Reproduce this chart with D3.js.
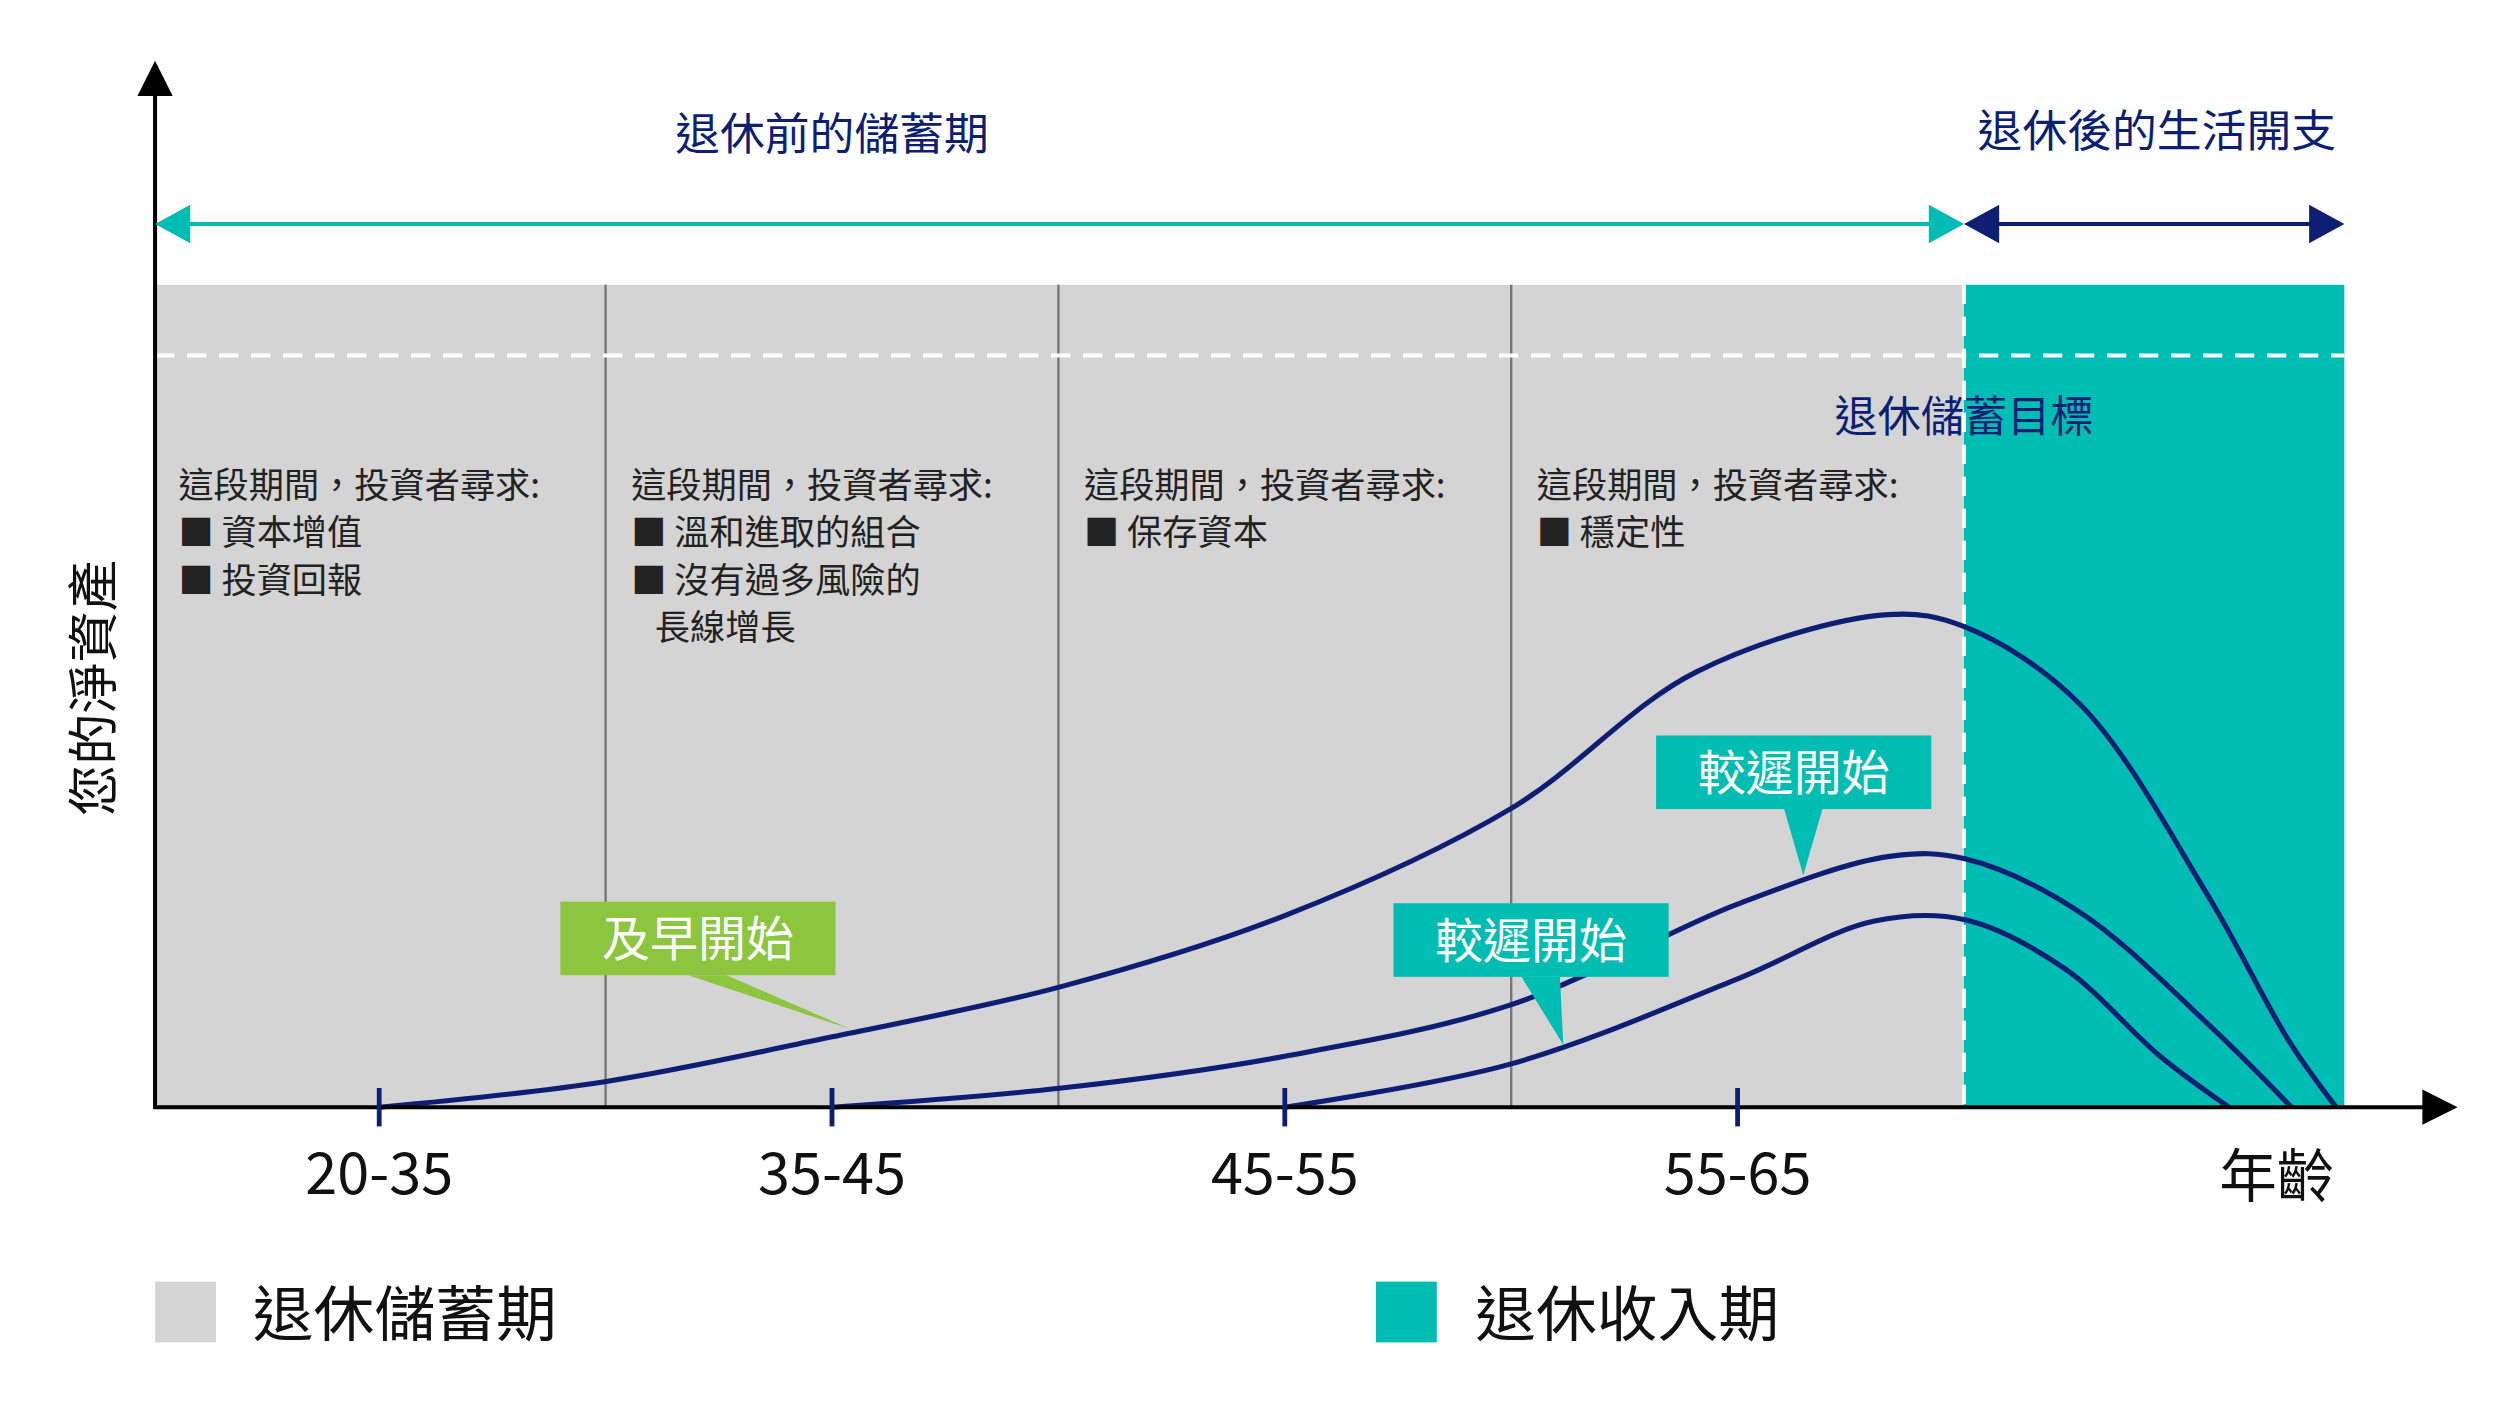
<!DOCTYPE html><html><head><meta charset="utf-8"><script src="https://cdn.jsdelivr.net/npm/d3@7"></script>
<style>body{margin:0;background:#fff}text{font-family:"Noto Sans CJK TC","Noto Sans",sans-serif}</style></head><body>
<svg id="c" width="2496" height="1404" viewBox="0 0 1560 877.5"></svg>
<script>
const ageTicks=["20-35","35-45","45-55","55-65"];
const dividers=[0.5,1.5,2.5];
const retireU=3.5, endU=4.34, axisU=-0.495;
const targetValue=91.4;
const earlyU=[0,0.498,1,1.502,2,2.502,2.908,3.332,3.502,3.756,4.039,4.216,4.322];
const earlyV=[0,3.1,8.56,14.6,23.3,36.4,52.9,59.9,58.4,49.0,25.7,8.2,0];
const late1U=[1,1.502,2,2.502,3,3.336,3.502,3.756,4.039,4.223];
const late1V=[0,2.3,6.2,12.5,24.7,30.5,30.2,23.7,10.1,0];
const late2U=[2,2.502,3,3.3,3.502,3.721,3.933,4.085];
const late2V=[0,5.3,15.6,22.6,22.8,16.9,6.2,0];
const panelTexts=[["這段期間，投資者尋求:","■ 資本增值","■ 投資回報"],["這段期間，投資者尋求:","■ 溫和進取的組合","■ 沒有過多風險的","   長線增長"],["這段期間，投資者尋求:","■ 保存資本"],["這段期間，投資者尋求:","■ 穩定性"]];
const callouts=[{t:"及早開始",u:0.4,v:25,tipU:1.04,tipV:9.5,c:"#8cc63f"},{t:"較遲開始",u:2.24,v:24.8,tipU:2.615,tipV:7.6,c:"#00bdb4"},{t:"較遲開始",u:2.82,v:45.2,tipU:3.145,tipV:28.2,c:"#00bdb4"}];
const navy="#0c1f73",teal="#00bdb4",gray="#d4d4d4";
const svg=d3.select("#c");
const x=d3.scaleLinear().domain([0,1]).range([237,520]);
const y=d3.scaleLinear().domain([0,100]).range([692,178]);
const defs=svg.append("defs");
svg.append("rect").attr("x",x(axisU)).attr("y",y(100)).attr("width",x(retireU)-x(axisU)).attr("height",y(0)-y(100)).attr("fill",gray);
svg.append("rect").attr("x",x(retireU)).attr("y",y(100)).attr("width",x(endU)-x(retireU)).attr("height",y(0)-y(100)).attr("fill",teal);
dividers.forEach(d=>svg.append("line").attr("x1",x(d)).attr("x2",x(d)).attr("y1",y(100)).attr("y2",y(0)).attr("stroke","#777").attr("stroke-width",1.5));
svg.append("line").attr("x1",x(axisU)).attr("x2",x(endU)).attr("y1",y(targetValue)).attr("y2",y(targetValue)).attr("stroke","#fff").attr("stroke-width",2.5).attr("stroke-dasharray","12,8");
svg.append("line").attr("x1",x(retireU)).attr("x2",x(retireU)).attr("y1",y(100)).attr("y2",y(0)).attr("stroke","#fff").attr("stroke-width",2.5).attr("stroke-dasharray","12,8");
svg.append("text").attr("x",x(retireU)).attr("y",y(targetValue)+48).attr("text-anchor","middle").attr("fill",navy).attr("font-size",27).text("退休儲蓄目標");
panelTexts.forEach((lines,i)=>{const x0=x(i-0.5)+16;lines.forEach((l,j)=>svg.append("text").attr("x",x0).attr("y",311+j*29.7).attr("font-size",22).attr("fill","#222").attr("xml:space","preserve").text(l));});
const line=d3.line().x(d=>x(d[0])).y(d=>y(d[1])).curve(d3.curveCatmullRom.alpha(0.5));
[[earlyU,earlyV],[late1U,late1V],[late2U,late2V]].forEach(([u,v])=>svg.append("path").attr("d",line(u.map((a,i)=>[a,v[i]]))).attr("fill","none").attr("stroke",navy).attr("stroke-width",3.2));
callouts.forEach(c=>{const bx=x(c.u),by=y(c.v),w=172,h=46;
 svg.append("path").attr("d",`M${bx+w*0.5-6},${by+h} L${x(c.tipU)},${y(c.tipV)} L${bx+w*0.5+18},${by+h}Z`).attr("fill",c.c);
 svg.append("rect").attr("x",bx).attr("y",by).attr("width",w).attr("height",h).attr("fill",c.c);
 svg.append("text").attr("x",bx+w/2).attr("y",by+h/2+11).attr("text-anchor","middle").attr("fill","#fff").attr("font-size",30).text(c.t);});
// axes
svg.append("line").attr("x1",x(axisU)).attr("x2",x(axisU)).attr("y1",y(0)+1).attr("y2",55).attr("stroke","#000").attr("stroke-width",2.5);
svg.append("path").attr("d",`M${x(axisU)-11},60 L${x(axisU)},38 L${x(axisU)+11},60Z`);
svg.append("line").attr("x1",x(axisU)-1).attr("x2",1518).attr("y1",y(0)).attr("y2",y(0)).attr("stroke","#000").attr("stroke-width",2.5);
svg.append("path").attr("d",`M1514,${y(0)-11} L1536,${y(0)} L1514,${y(0)+11}Z`);
ageTicks.forEach((t,i)=>{svg.append("line").attr("x1",x(i)).attr("x2",x(i)).attr("y1",y(0)-12).attr("y2",y(0)+12).attr("stroke",navy).attr("stroke-width",3);
 svg.append("text").attr("x",x(i)).attr("y",746).attr("text-anchor","middle").attr("font-size",36).attr("fill","#111").text(t);});
svg.append("text").attr("x",1423).attr("y",748).attr("text-anchor","middle").attr("font-size",36).attr("fill","#111").text("年齡");
svg.append("text").attr("transform","translate(70,430) rotate(-90)").attr("text-anchor","middle").attr("font-size",32).attr("fill","#111").text("您的淨資產");
// top arrows
svg.append("line").attr("x1",x(axisU)+18).attr("x2",x(retireU)-18).attr("y1",140).attr("y2",140).attr("stroke",teal).attr("stroke-width",2.5);
svg.append("path").attr("d",`M${x(axisU)+22},128 L${x(axisU)},140 L${x(axisU)+22},152Z`).attr("fill",teal);
svg.append("path").attr("d",`M${x(retireU)-22},128 L${x(retireU)},140 L${x(retireU)-22},152Z`).attr("fill",teal);
svg.append("line").attr("x1",x(retireU)+18).attr("x2",x(endU)-18).attr("y1",140).attr("y2",140).attr("stroke",navy).attr("stroke-width",2.5);
svg.append("path").attr("d",`M${x(retireU)+22},128 L${x(retireU)},140 L${x(retireU)+22},152Z`).attr("fill",navy);
svg.append("path").attr("d",`M${x(endU)-22},128 L${x(endU)},140 L${x(endU)-22},152Z`).attr("fill",navy);
svg.append("text").attr("x",520).attr("y",94).attr("text-anchor","middle").attr("font-size",28).attr("fill",navy).text("退休前的儲蓄期");
svg.append("text").attr("x",1348).attr("y",92).attr("text-anchor","middle").attr("font-size",28).attr("fill",navy).text("退休後的生活開支");
// legend
svg.append("rect").attr("x",97).attr("y",801).attr("width",38).attr("height",38).attr("fill",gray);
svg.append("text").attr("x",158).attr("y",835).attr("font-size",38).attr("fill","#111").text("退休儲蓄期");
svg.append("rect").attr("x",860).attr("y",801).attr("width",38).attr("height",38).attr("fill",teal);
svg.append("text").attr("x",922).attr("y",835).attr("font-size",38).attr("fill","#111").text("退休收入期");
</script></body></html>
